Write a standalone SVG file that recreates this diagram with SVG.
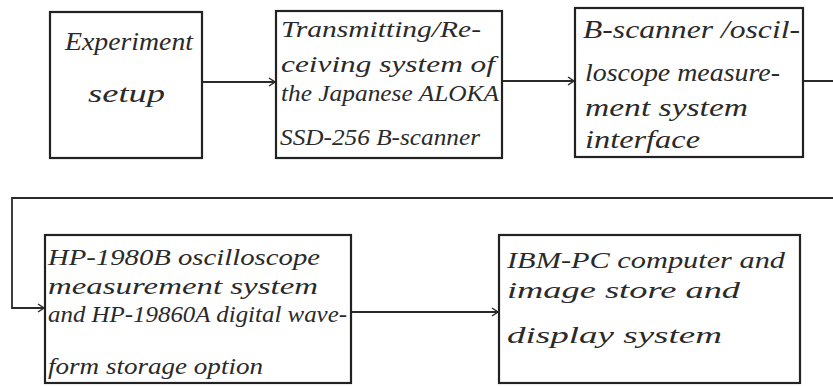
<svg xmlns="http://www.w3.org/2000/svg" width="833" height="386" viewBox="0 0 833 386">
<defs>
<marker id="arr" markerWidth="10" markerHeight="10" refX="8" refY="5" orient="auto" markerUnits="userSpaceOnUse">
<path d="M2,1 L8,5 L2,9" fill="none" stroke="#2a2a2a" stroke-width="1.5"/>
</marker>
<style>
.box{fill:#fff;stroke:#222;stroke-width:2.2}
.t{font-family:"Liberation Serif",serif;font-style:italic;fill:#2a2a2a}
.c{fill:none;stroke:#2a2a2a;stroke-width:1.8}
</style>
</defs>
<rect width="833" height="386" fill="#fff"/>
<g id="connectors">
<path class="c" d="M202,82 H275" marker-end="url(#arr)"/>
<path class="c" d="M502,81 H574" marker-end="url(#arr)"/>
<path class="c" d="M803,81 H845 V198 H12 V308 H44" marker-end="url(#arr)"/>
<path class="c" d="M351,312 H498" marker-end="url(#arr)"/>
</g>
<g id="n1">
<rect class="box" x="50" y="12" width="152" height="146"/>
<text class="t" x="65" y="50" font-size="25" textLength="128" lengthAdjust="spacingAndGlyphs">Experiment</text>
<text class="t" x="88" y="102" font-size="26" textLength="77" lengthAdjust="spacingAndGlyphs">setup</text>
</g>
<g id="n2">
<rect class="box" x="276" y="11" width="226" height="147"/>
<text class="t" x="281" y="37" font-size="23" textLength="200" lengthAdjust="spacingAndGlyphs">Transmitting/Re-</text>
<text class="t" x="281" y="72" font-size="23" textLength="214" lengthAdjust="spacingAndGlyphs">ceiving system of</text>
<text class="t" x="281" y="101" font-size="23" textLength="218" lengthAdjust="spacingAndGlyphs">the Japanese ALOKA</text>
<text class="t" x="280" y="145" font-size="23" textLength="200" lengthAdjust="spacingAndGlyphs">SSD-256 B-scanner</text>
</g>
<g id="n3">
<rect class="box" x="575" y="8" width="228" height="149"/>
<text class="t" x="583" y="38" font-size="25" textLength="217" lengthAdjust="spacingAndGlyphs">B-scanner /oscil-</text>
<text class="t" x="585" y="81" font-size="25" textLength="195" lengthAdjust="spacingAndGlyphs">loscope measure-</text>
<text class="t" x="585" y="116" font-size="25" textLength="163" lengthAdjust="spacingAndGlyphs">ment system</text>
<text class="t" x="585" y="148" font-size="25" textLength="115" lengthAdjust="spacingAndGlyphs">interface</text>
</g>
<g id="n4">
<rect class="box" x="45" y="235" width="306" height="148"/>
<text class="t" x="48" y="265" font-size="23" textLength="272" lengthAdjust="spacingAndGlyphs">HP-1980B oscilloscope</text>
<text class="t" x="48" y="294" font-size="23" textLength="270" lengthAdjust="spacingAndGlyphs">measurement system</text>
<text class="t" x="48" y="322" font-size="23" textLength="299" lengthAdjust="spacingAndGlyphs">and HP-19860A digital wave-</text>
<text class="t" x="48" y="374" font-size="23" textLength="215" lengthAdjust="spacingAndGlyphs">form storage option</text>
</g>
<g id="n5">
<rect class="box" x="499" y="235" width="301" height="148"/>
<text class="t" x="507" y="268" font-size="24" textLength="278" lengthAdjust="spacingAndGlyphs">IBM-PC computer and</text>
<text class="t" x="507" y="298" font-size="24" textLength="233" lengthAdjust="spacingAndGlyphs">image store and</text>
<text class="t" x="507" y="343" font-size="24" textLength="215" lengthAdjust="spacingAndGlyphs">display system</text>
</g>
</svg>
